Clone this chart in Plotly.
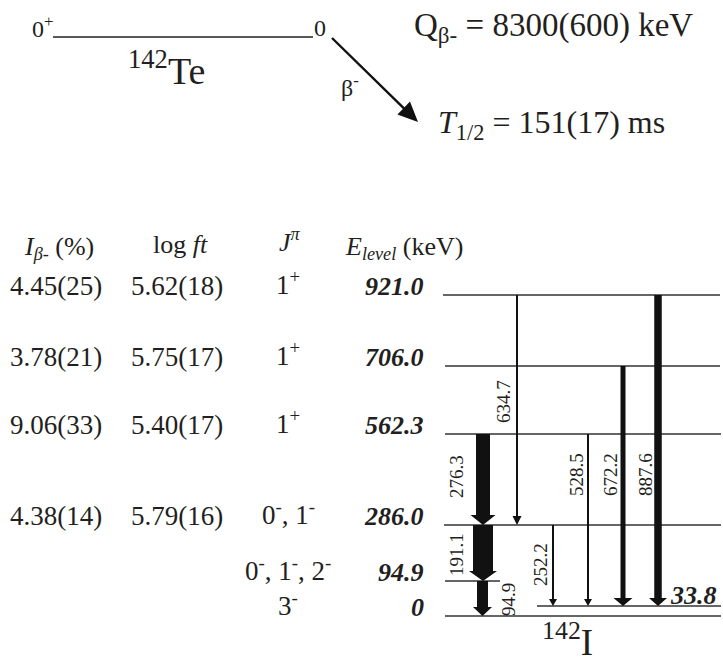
import math
import plotly.graph_objects as go

# ---------------- data ----------------
level_energy = ["921.0", "706.0", "562.3", "286.0", "94.9", "0"]
level_spin = ["1<sup>+</sup>", "1<sup>+</sup>", "1<sup>+</sup>",
              "0<sup>-</sup>, 1<sup>-</sup>",
              "0<sup>-</sup>, 1<sup>-</sup>, 2<sup>-</sup>",
              "3<sup>-</sup>"]
beta_intensity = ["4.45(25)", "3.78(21)", "9.06(33)", "4.38(14)", "", ""]
log_ft = ["5.62(18)", "5.75(17)", "5.40(17)", "5.79(16)", "", ""]
isomer_level = "33.8"

gamma_energy = ["276.3", "634.7", "191.1", "94.9", "252.2", "528.5", "672.2", "887.6"]
gamma_from = ["562.3", "921.0", "286.0", "94.9", "286.0", "562.3", "706.0", "921.0"]
gamma_to = ["286.0", "286.0", "94.9", "0", "33.8", "33.8", "33.8", "33.8"]

parent_label = "<sup>142</sup>Te"
daughter_label = "<sup>142</sup>I"
q_value = "Q<sub>β-</sub> = 8300(600) keV"
half_life = "<i>T</i><sub>1/2</sub> = 151(17) ms"

# ---------------- layout / style ----------------
W, H = 723, 664
FONT = "Times New Roman, Liberation Serif, DejaVu Serif, serif"
INK = "#231f20"
LINE = "#333333"

level_y = {"921.0": 295, "706.0": 366, "562.3": 434, "286.0": 525,
           "94.9": 581, "33.8": 606, "0": 616}
level_x = {"921.0": (443, 720), "706.0": (445, 720), "562.3": (445, 721),
           "286.0": (444, 721), "94.9": (445, 500), "33.8": (537, 721),
           "0": (445, 721)}

gamma_x = [483, 517, 483, 482.5, 553, 588, 623, 658]
gamma_w = [14, 2, 20, 11, 2, 2, 5, 7.5]
head_w = [25, 9, 28, 19, 8, 8, 19, 18]
head_l = [10, 9, 10, 9, 7, 7, 8, 8]
label_xy = [(456, 477), (503, 402), (456, 555), (508, 600),
            (540, 565), (576, 475), (610, 475), (645, 475)]

shapes = []
annotations = []


def txt(x, y, text, size, xanchor="center", yanchor="middle", angle=0, color=INK):
    annotations.append(dict(x=x, y=y, xref="x", yref="y", text=text, showarrow=False,
                            xanchor=xanchor, yanchor=yanchor, textangle=angle,
                            font=dict(family=FONT, size=size, color=color)))


# level lines
for key, yv in level_y.items():
    x0, x1 = level_x[key]
    shapes.append(dict(type="line", xref="x", yref="y", x0=x0, x1=x1, y0=yv, y1=yv,
                       line=dict(color=LINE, width=1.6)))

# gamma arrows
for i, e in enumerate(gamma_energy):
    x = gamma_x[i]
    y1 = level_y[gamma_from[i]]
    y2 = level_y[gamma_to[i]]
    w = gamma_w[i] / 2
    hw = head_w[i] / 2
    hl = head_l[i]
    path = (f"M {x-w},{y1} L {x+w},{y1} L {x+w},{y2-hl} L {x+hw},{y2-hl} "
            f"L {x},{y2} L {x-hw},{y2-hl} L {x-w},{y2-hl} Z")
    shapes.append(dict(type="path", xref="x", yref="y", path=path,
                       fillcolor="#111111", line=dict(width=0)))
    lx, ly = label_xy[i]
    txt(lx, ly, e, 19, angle=-90)

# level table
row_cols = [56, 177, 288]
for i, key in enumerate(level_energy):
    yc = level_y[key] - 9
    if beta_intensity[i]:
        txt(row_cols[0], yc, beta_intensity[i], 27)
    if log_ft[i]:
        txt(row_cols[1], yc, log_ft[i], 27)
    txt(row_cols[2], yc - 3, level_spin[i], 27)
    txt(426, yc, f"<b><i>{key}</i></b>", 26, xanchor="right")

txt(719, level_y[isomer_level] - 11, f"<b><i>{isomer_level}</i></b>", 26, xanchor="right")

# headers
txt(22, 248, "<i>I</i><sub><i>β-</i></sub> (%)", 26, xanchor="left")
txt(180, 244, "log <i>ft</i>", 26)
txt(290, 240, "<i>J</i><sup><i>π</i></sup>", 26)
txt(343, 248, "<i>E</i><sub><i>level</i></sub> (keV)", 26, xanchor="left")

# parent
shapes.append(dict(type="line", xref="x", yref="y", x0=53, x1=313, y0=37, y1=37,
                   line=dict(color=INK, width=1.6)))
txt(42, 27, "0<sup>+</sup>", 24)
txt(320, 28, "0", 24)
txt(166, 68, parent_label, 38)
txt(350, 86, "β<sup>-</sup>", 24)
txt(412, 27, q_value, 33, xanchor="left")
txt(436, 124, half_life, 32, xanchor="left")
txt(567, 639, daughter_label, 37)

# beta arrow
sx, sy, tx, ty = 332, 38, 418, 122
L = math.hypot(tx - sx, ty - sy)
dx, dy = (tx - sx) / L, (ty - sy) / L
px, py = -dy, dx
hl, hw, sw = 20, 9, 1.2
bx, by = tx - hl * dx, ty - hl * dy
path = (f"M {sx+sw*px},{sy+sw*py} L {bx+sw*px},{by+sw*py} L {bx+hw*px},{by+hw*py} "
        f"L {tx},{ty} L {bx-hw*px},{by-hw*py} L {bx-sw*px},{by-sw*py} L {sx-sw*px},{sy-sw*py} Z")
shapes.append(dict(type="path", xref="x", yref="y", path=path,
                   fillcolor="#111111", line=dict(width=0)))

fig = go.Figure()
fig.add_trace(go.Scatter(x=[0, W], y=[0, H], mode="markers",
                         marker=dict(opacity=0), hoverinfo="skip", showlegend=False))
fig.update_layout(width=W, height=H, margin=dict(l=0, r=0, t=0, b=0),
                  paper_bgcolor="white", plot_bgcolor="white",
                  font=dict(family=FONT),
                  shapes=shapes, annotations=annotations, showlegend=False,
                  xaxis=dict(range=[0, W], visible=False, fixedrange=True),
                  yaxis=dict(range=[H, 0], visible=False, fixedrange=True))
fig.write_html("out.html", config={"displayModeBar": False},
               post_script="document.body.style.margin='0';document.body.style.overflow='hidden';")
